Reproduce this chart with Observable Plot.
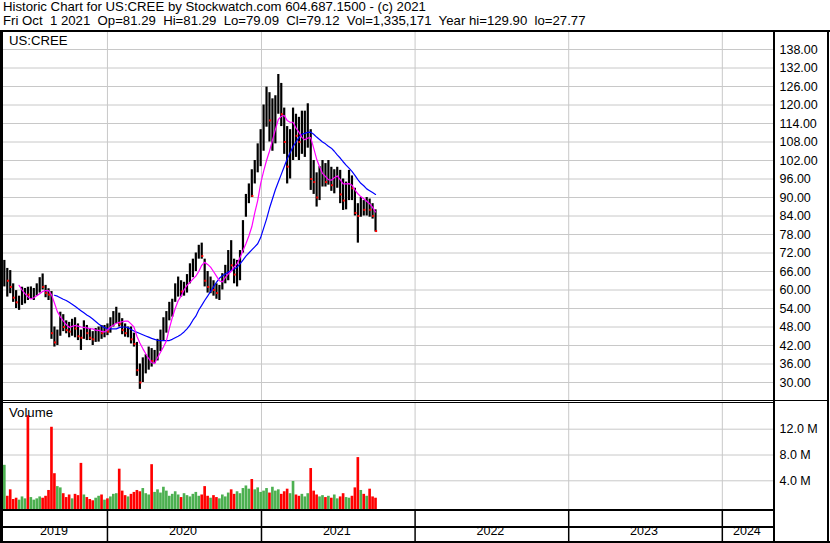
<!DOCTYPE html>
<html><head><meta charset="utf-8">
<script src="https://cdn.jsdelivr.net/npm/d3@7"></script>
<script src="https://cdn.jsdelivr.net/npm/@observablehq/plot@0.6"></script>
<style>
html,body{margin:0;padding:0;background:#fff;overflow:hidden;}
#wrap{position:relative;width:830px;height:543px;overflow:hidden;font-family:"Liberation Sans",Arial,sans-serif;color:#000;}
.ln{position:absolute;background:#000;}
.txt{position:absolute;font-size:13.2px;line-height:14px;white-space:pre;color:#000;}
.pl{position:absolute;left:0;}
.pl svg{display:block;}
</style></head><body>
<div id="wrap">
  <div class="txt" style="left:3px;top:0px;">Historic Chart for US:CREE by Stockwatch.com 604.687.1500 - (c) 2021</div>
  <div class="txt" style="left:3px;top:14px;">Fri Oct  1 2021  Op=81.29  Hi=81.29  Lo=79.09  Cl=79.12  Vol=1,335,171  Year hi=129.90  lo=27.77</div>
  <div class="pl" id="price" style="top:32px;"></div>
  <div class="pl" id="volume" style="top:403px;"></div>
  <div class="pl" id="strip" style="top:511px;"></div>
  <div class="ln" style="left:0;top:30px;width:830px;height:2px;"></div>
  <div class="ln" style="left:0;top:30px;width:3px;height:513px;"></div>
  <div class="ln" style="left:827px;top:30px;width:2px;height:513px;"></div>
  <div class="ln" style="left:773px;top:30px;width:2px;height:513px;"></div>
  <div class="ln" style="left:0;top:400px;width:829px;height:1px;"></div>
  <div class="ln" style="left:0;top:402px;width:774px;height:1px;"></div>
  <div class="ln" style="left:0;top:509px;width:774px;height:2px;"></div>
  <div class="ln" style="left:0;top:526px;width:774px;height:2px;"></div>
  <div class="ln" style="left:0;top:541px;width:830px;height:2px;"></div>
  <div class="txt" style="left:9px;top:34px;">US:CREE</div>
  <div class="txt" style="left:9px;top:406px;">Volume</div>
</div>
<script>
// ---- data (weekly, weeks starting Monday) ----
const weekStart = "2019-04-29";
const lows = [
  61, 57.7, 58.8, 56, 54, 53.4, 55, 55.5, 56.6, 57,
  56.6, 58, 59, 60, 57.5, 56.6, 44, 41.5, 42, 45,
  46.5, 45.8, 44.5, 45, 44.5, 43.6, 40.4, 44, 43.6, 43.6,
  42, 43, 43.1, 44, 44.5, 45.2, 46, 48, 49, 48,
  45.5, 44.7, 44.5, 42.5, 41.5, 32, 27.77, 30, 32.8, 34,
  35, 36.1, 37, 40, 43.6, 46, 50, 51.2, 56, 57.7,
  57.7, 58, 59, 62, 64, 66, 70, 70, 61, 59,
  58.8, 58, 57, 56.6, 60, 62, 63, 66, 62, 61,
  63, 72, 83.6, 88, 90, 94.4, 98, 100, 105, 112.8,
  108, 105, 107.4, 117, 113, 104, 94.4, 96, 102, 103,
  102, 104, 103, 106, 92.3, 91, 86.9, 89, 93.4, 93.4,
  94, 92, 91.2, 93, 88, 85.8, 86, 89, 89, 84,
  75.2, 83.6, 84, 84, 83.6, 83, 78.8
];
const highs = [
  69.6, 67, 66.3, 62, 59.8, 58, 60.9, 60.5, 60.9, 61,
  60.5, 62, 64, 65.2, 61.5, 60.4, 59.5, 48, 47, 52.8,
  52, 50, 49.5, 50.5, 51, 49, 47, 50, 48.5, 47.5,
  46.5, 47.5, 48, 48.5, 48.5, 49, 51, 53, 54.4, 52.5,
  50.7, 49, 48, 48, 46, 43, 36, 38, 39, 41.5,
  41, 40.4, 44, 47, 51, 53, 56, 57, 62, 64.2,
  63, 62.5, 65, 68.5, 70, 72, 74.5, 75.2, 70, 66,
  64.2, 63, 62, 61.5, 65.3, 68, 72.8, 76, 70, 69.6,
  72.8, 82.5, 91, 94.4, 99, 102, 107.4, 112, 120, 125.8,
  124, 122, 123, 129.9, 127, 119, 113, 112, 119, 117,
  116, 118, 118, 120.4, 112, 102, 98, 100, 102, 101,
  102, 99.8, 99, 99.8, 98.8, 96, 95, 98.8, 97, 93,
  88, 90, 89, 90, 89.5, 88, 86
];
const closes = [
  66, 63, 61, 57.5, 56, 57, 58, 59, 58.5, 59.5,
  60, 60.5, 62, 61, 59, 58.5, 46, 43, 46, 50,
  48, 47, 46.5, 48, 47.5, 45, 44.5, 47.5, 46, 44.5,
  44, 45.5, 46.5, 46, 47, 46.5, 50, 51, 52, 49,
  47, 46, 46.5, 44, 42.5, 34, 30, 34.5, 36, 38,
  37, 38, 42.5, 45, 48, 51, 54.5, 56, 60, 61.5,
  59.5, 61, 63, 66, 68, 70, 72.5, 71, 63, 61,
  62, 60, 59, 60, 63.5, 66, 70, 68, 65, 66,
  71, 80, 89, 91, 90.5, 99, 104, 106, 115, 120,
  115, 118, 120, 124, 117, 108, 100, 105, 113, 110,
  108, 110, 112, 114, 96, 95, 90, 96, 97, 95,
  99, 94, 96, 97, 91, 89, 92, 95, 93, 85,
  84, 87, 86, 87, 86, 84, 79.12
];
const volumes = [ // millions of shares
  6.4, 1.6, 2.6, 1.1, 1.3, 1.0, 1.5, 1.2, 14.1, 1.4,
  1.0, 1.2, 1.5, 1.3, 1.6, 2.5, 12.3, 5.1, 3.1, 2.9,
  2.0, 1.4, 1.8, 1.2, 1.9, 1.7, 6.7, 1.8, 1.4, 1.1,
  0.9, 1.3, 1.6, 1.8, 1.0, 1.2, 1.5, 1.9, 2.0, 5.8,
  2.4, 1.7, 1.5, 1.9, 2.2, 2.5, 2.3, 2.8, 2.0, 1.8,
  6.5, 2.2, 2.6, 2.1, 3.0, 2.4, 1.6, 1.9, 2.3, 1.8,
  1.4, 2.0, 1.7, 1.5, 1.9, 2.2, 1.6, 1.8, 3.1, 1.6,
  1.3, 1.7, 1.4, 1.2, 1.8, 1.5, 2.1, 2.6, 1.9, 2.3,
  2.0, 2.8, 3.2, 2.7, 4.2, 2.6, 2.9, 2.2, 2.4, 2.8,
  2.1, 3.0, 2.4, 2.6, 1.9, 2.3, 2.7, 2.0, 3.9, 1.8,
  1.6, 1.9, 1.5, 2.0, 5.9, 2.4, 1.8, 1.5, 1.7, 1.4,
  1.6, 1.3, 1.8, 1.2, 1.5, 2.0, 1.4, 1.3, 1.6, 2.9,
  7.6, 2.5, 1.9, 1.6, 2.7, 1.5, 1.3
];
const maShort = [ // magenta moving average
  null, null, null, null, null, 61.5, 60, 58.8, 57.8, 57.1,
  57.5, 58.1, 58.8, 59.5, 59.8, 59.8, 58.5, 55.8, 53, 51.3,
  50, 48.8, 47.9, 48.2, 48.5, 48.3, 48, 47.9, 47.7, 47.5,
  47.4, 47, 46.9, 46.6, 46.4, 47, 48, 48.6, 49.2, 49.5,
  49.7, 49.9, 49.9, 49, 48, 45, 42.8, 41, 39.3, 37.8,
  36.4, 36.2, 38, 39.8, 41.5, 43.5, 47.5, 51, 54, 56.5,
  58, 60, 61.5, 62.5, 63.5, 64.5, 66, 68, 69, 68.3,
  67.4, 66, 64.5, 63, 62.6, 64, 65.2, 66, 67.5, 68.5,
  70.5, 72.8, 75, 77.5, 80.5, 85, 89, 94.5, 98.5, 102,
  105, 108.5, 112, 115.3, 116.3, 116.6, 115, 114.4, 114.4, 112.5,
  111.2, 109.5, 108.7, 109.3, 109.4, 106, 102.5, 100, 97.8, 96.8,
  95.8, 95.6, 96.4, 97, 95.8, 94.4, 94.4, 94.5, 94, 92.5,
  91.2, 90.3, 89.6, 88.8, 88, 86.8, 85.3
];
const maLong = [ // blue moving average
  null, null, null, null, null, null, null, null, null, null,
  null, null, null, null, null, null, null, 58.3, 58.0, 57.5,
  57.0, 56.6, 56.0, 55.4, 54.7, 54.0, 53.3, 52.6, 51.9, 51.3,
  50.6, 49.8, 49.0, 48.3, 47.8, 47.5, 47.4, 47.4, 47.4, 47.8,
  48.0, 48.0, 47.8, 47.2, 46.7, 46.3, 45.9, 45.5, 45.1, 44.7,
  44.3, 44.0, 43.7, 43.6, 43.6, 43.6, 43.6, 44.0, 44.5, 45.0,
  45.6, 46.4, 47.4, 48.6, 50.2, 51.5, 53.5, 55.0, 56.6, 58.0,
  59.5, 61.0, 62.5, 63.8, 64.6, 65.2, 65.8, 66.3, 66.8, 67.4,
  68.5, 69.7, 71, 72, 73, 74, 75, 77, 80, 83,
  86.5, 89.5, 92.5, 95, 97.5, 100, 102.5, 104.5, 106.5, 108,
  109.5, 110.5, 110.8, 111.1, 111.2, 110.5, 109.6, 108.8, 108.0, 107.4,
  106.6, 106, 105, 103.8, 102.8, 101.6, 100.5, 99.5, 98.5, 97.2,
  95.8, 94.6, 93.8, 92.8, 92.2, 91.6, 91.0
];
const priceTicks = [30, 36, 42, 48, 54, 60, 66, 72, 78, 84, 90, 96, 102, 108, 114, 120, 126, 132, 138];
const volumeTicks = [4, 8, 12];
const yearLabels = [2019, 2020, 2021, 2022, 2023, 2024];
const xDomain = ["2019-04-29", "2024-05-04"];

// ---- build table ----
const start = new Date(weekStart + "T00:00:00Z");
const dates = d3.utcMonday.range(start, d3.utcDay.offset(start, 7 * closes.length));
const rows = closes.map((c, i) => ({
  date: dates[i],
  mid: d3.utcDay.offset(dates[i], 2),
  end: d3.utcDay.offset(dates[i], 7),
  low: lows[i], high: highs[i], close: c, vol: volumes[i],
  m1: maShort[i], m2: maLong[i],
  dir: i === 0 ? 1 : Math.sign(c - closes[i - 1])
}));
const d0 = new Date(xDomain[0] + "T00:00:00Z"), d1 = new Date(xDomain[1] + "T00:00:00Z");
const yearStarts = yearLabels.slice(1).map(y => new Date(Date.UTC(y, 0, 1)));
const yearMids = yearLabels.map(y => {
  const a = Math.max(Date.UTC(y, 0, 1), +d0), b = Math.min(Date.UTC(y + 1, 0, 1), +d1);
  return {mid: new Date((a + b) / 2), label: String(y)};
});

const font = "'Liberation Sans', Arial, sans-serif";
const common = {
  width: 830, marginLeft: 3, marginRight: 56, marginTop: 0, marginBottom: 0,
  x: {type: "utc", domain: [d0, d1], axis: null},
  style: {fontFamily: font, fontSize: "12.5px", background: "transparent", color: "#000"}
};
const grid = "#c8c8c8";

const price = Plot.plot({
  ...common, height: 368,
  y: {domain: [30, 138], range: [350, 17], axis: null},
  marks: [
    Plot.gridY(priceTicks, {stroke: grid, strokeOpacity: 1}),
    Plot.ruleX(yearStarts, {stroke: grid, strokeOpacity: 1}),
    Plot.ruleX(rows, {x: "mid", y1: "low", y2: "high", stroke: "#000", strokeWidth: 2.2}),
    Plot.ruleY(rows.filter(d => d.dir < 0), {y: "close", x1: d => d3.utcHour.offset(d.mid, 6), x2: d => d3.utcHour.offset(d.mid, 120), stroke: "#ff0000", strokeWidth: 2}),
    Plot.line(rows.filter(d => d.m2 != null), {x: "mid", y: "m2", stroke: "#0000ff", strokeWidth: 1.2}),
    Plot.line(rows.filter(d => d.m1 != null), {x: "mid", y: "m1", stroke: "#ff00ff", strokeWidth: 1.2}),
    Plot.axisY(priceTicks, {anchor: "right", label: null, tickSize: 0, tickPadding: 5, tickFormat: d => d.toFixed(2), fill: "#000"})
  ]
});
document.getElementById("price").append(price);

const volume = Plot.plot({
  ...common, height: 106,
  y: {domain: [0, 12], range: [103.1, 25.7], axis: null},
  color: {type: "identity"},
  marks: [
    Plot.gridY(volumeTicks, {stroke: grid, strokeOpacity: 1}),
    Plot.ruleX(yearStarts, {stroke: grid, strokeOpacity: 1}),
    Plot.rectY(rows, {x1: "date", x2: "end", y: "vol", insetBottom: -3, insetRight: 0.3,
      fill: d => d.dir > 0 ? "#4cb050" : d.dir < 0 ? "#ff0000" : "#a0a0a0"}),
    Plot.axisY(volumeTicks, {anchor: "right", label: null, tickSize: 0, tickPadding: 5, tickFormat: d => d.toFixed(1) + " M", fill: "#000"})
  ]
});
document.getElementById("volume").append(volume);

const strip = Plot.plot({
  ...common, height: 30,
  y: {axis: null},
  marks: [
    Plot.ruleX(yearStarts, {stroke: "#000", strokeWidth: 1.5}),
    Plot.text(yearMids, {x: "mid", text: "label", frameAnchor: "bottom", dy: -6.5, dx: -1.5, fill: "#000"})
  ]
});
document.getElementById("strip").append(strip);
</script>
</body></html>
